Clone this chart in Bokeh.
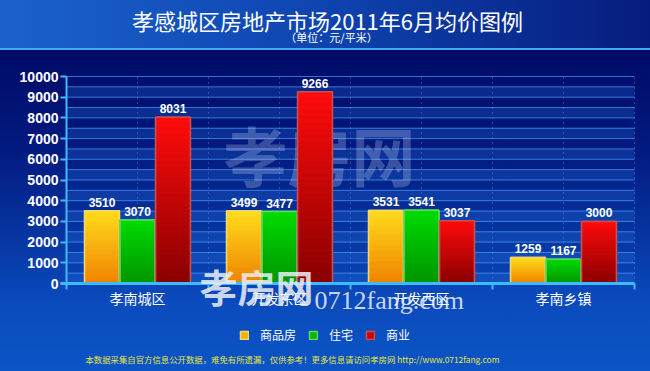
from bokeh.plotting import figure
from bokeh.models import (Range1d, FixedTicker, Label, Legend, LegendItem, ColumnDataSource)
from bokeh.embed import file_html
from bokeh.resources import INLINE
from bokeh.core.properties import value

# ---------------- data ----------------
categories = ["孝南城区", "开发东区", "开发西区", "孝南乡镇"]
series_names = ["商品房", "住宅", "商业"]
shangpinfang = [3510, 3499, 3531, 1259]
zhuzhai = [3070, 3477, 3541, 1167]
shangye = [8031, 9266, 3037, 3000]
y_tick_values = [0, 1000, 2000, 3000, 4000, 5000, 6000, 7000, 8000, 9000, 10000]
y_max = 10000
grid_step = 500

title_text = "孝感城区房地产市场2011年6月均价图例"
subtitle_text = "（单位：元/平米）"
footer_text = "本数据采集自官方信息公开数据，难免有所遗漏，仅供参考！更多信息请访问孝房网 http://www.0712fang.com"
watermark_cn = "孝房网"
watermark_en = "0712fang.com"

# ---------------- geometry / style ----------------
W, H = 650, 371
PL, PR, PT, PB = 66, 634, 76, 283          # plot box in canvas pixels
ncat = len(categories)
ux = (PR - PL) / ncat                      # px per category
uy = (PB - PT) / y_max                     # px per unit value

CJK = "Noto Sans CJK SC"
NUM = "Liberation Sans"
series_vals = [shangpinfang, zhuzhai, shangye]
offsets = [-0.25, 0.0, 0.25]
bar_w = 0.245
top_cols = ["#ffdc1e", "#00dc00", "#ff0c0c"]
bot_cols = ["#f08200", "#009400", "#880000"]
mid_cols = ["#f7b000", "#00b800", "#cc0000"]
edge_cols = ["#f0d870", "#60d860", "#c85050"]
AX = "#3cbcff"

p = figure(width=W, height=H,
           x_range=Range1d(-PL / ux, ncat + (W - PR) / ux),
           y_range=Range1d(-(H - PB) / uy, y_max + PT / uy),
           title=None, output_backend="svg", toolbar_location=None, min_border=0)
p.styles = {
    "background": (
        "linear-gradient(to bottom, rgba(0,0,0,0) 48px, #45a8f5 48px, #45a8f5 50px, rgba(0,0,0,0) 50px), "
        "linear-gradient(to right, #1b62cc 0%, #0e44b0 50%, #061c7c 100%) 0 0 / 100% 49px no-repeat, "
        "linear-gradient(to bottom, #000862 0px, #000a66 50px, #021a80 150px, #06339e 230px, #0a4abc 300px, #0b55c6 371px)"
    )
}
p.border_fill_alpha = 0
p.background_fill_alpha = 0
p.outline_line_color = None
p.xgrid.visible = False
p.ygrid.visible = False

# --- plot-area bands & grid lines (limited to the value axis extent) ---
levels = list(range(0, y_max + 1, grid_step))
band_b = levels[0:-1:2]
p.quad(left=0, right=ncat, bottom=band_b, top=[b + grid_step for b in band_b],
       fill_color="#2a72e0", fill_alpha=0.25, line_color=None)
p.segment(x0=0, x1=ncat, y0=levels, y1=levels, line_color="#4aa0f8", line_alpha=0.7, line_width=1)
vlines = [k / 2 for k in range(1, 2 * ncat + 1)]
p.segment(x0=vlines, x1=vlines, y0=0, y1=y_max, line_color="#5aa0f0", line_alpha=0.7,
          line_dash="1 4", line_width=1)

# centre watermark (behind bars)
p.text(x=[(223 - PL) / ux], y=[(PB - 152) / uy], text=[watermark_cn], text_align="left",
       text_baseline="middle", text_font=value(CJK), text_font_style="bold",
       text_font_size="64px", text_color="#dfe6ff", text_alpha=0.25)

# --- axes, fixed at the value / category origin ---
p.yaxis.fixed_location = 0
p.yaxis.bounds = (0, y_max)
p.yaxis.ticker = FixedTicker(ticks=y_tick_values)
p.yaxis.axis_line_color = AX
p.yaxis.axis_line_width = 2
p.yaxis.major_tick_line_color = AX
p.yaxis.major_tick_line_width = 2
p.yaxis.major_tick_out = 6
p.yaxis.major_tick_in = 0
p.yaxis.minor_tick_line_color = None
p.yaxis.major_label_text_color = "white"
p.yaxis.major_label_text_font = NUM
p.yaxis.major_label_text_font_style = "bold"
p.yaxis.major_label_text_font_size = "14px"
p.yaxis.major_label_standoff = 2

centers = [i + 0.5 for i in range(ncat)]
p.xaxis.fixed_location = 0
p.xaxis.bounds = (-0.04, ncat)
p.xaxis.ticker = FixedTicker(ticks=centers, minor_ticks=list(range(ncat + 1)))
p.xaxis.major_label_overrides = {c: n for c, n in zip(centers, categories)}
p.xaxis.axis_line_color = AX
p.xaxis.axis_line_width = 3
p.xaxis.major_tick_line_color = None
p.xaxis.major_tick_out = 6
p.xaxis.major_tick_in = 0
p.xaxis.minor_tick_line_color = AX
p.xaxis.minor_tick_line_width = 2
p.xaxis.minor_tick_out = 6
p.xaxis.minor_tick_in = 0
p.xaxis.major_label_text_color = "white"
p.xaxis.major_label_text_font = CJK
p.xaxis.major_label_text_font_size = "14px"
p.xaxis.major_label_standoff = -2


def mix(c1, c2, t):
    a = [int(c1[i:i + 2], 16) for i in (1, 3, 5)]
    b = [int(c2[i:i + 2], 16) for i in (1, 3, 5)]
    return "#%02x%02x%02x" % tuple(round(a[j] + (b[j] - a[j]) * t) for j in range(3))


N = 30
legend_items = []
for s, vals in enumerate(series_vals):
    xs = [c + offsets[s] for c in centers]
    src = ColumnDataSource(dict(x=xs, top=vals))
    solid = p.vbar(x="x", top="top", width=bar_w, source=src,
                   fill_color=mid_cols[s], line_color=edge_cols[s], line_width=1.5)
    legend_items.append(LegendItem(label=series_names[s], renderers=[solid]))
    # vertical colour gradient, sliced from each bar's own value
    gx, gb, gt, gc = [], [], [], []
    for x, v in zip(xs, vals):
        for k in range(N):
            gx.append(x)
            gb.append(v * k / N)
            gt.append(v * (k + 1) / N)
            gc.append(mix(bot_cols[s], top_cols[s], (k + 0.5) / N))
    p.vbar(x=gx, bottom=gb, top=gt, width=bar_w, fill_color=gc, line_color=gc, line_width=0.6)
    p.vbar(x="x", top="top", width=bar_w, source=src,
           fill_color=None, line_color=edge_cols[s], line_width=1.5)
    tsrc = ColumnDataSource(dict(x=xs, y=vals, t=[str(v) for v in vals]))
    p.text(x="x", y="y", text="t", source=tsrc, y_offset=-4,
           text_align="center", text_baseline="bottom",
           text_font=value(NUM), text_font_style="bold", text_font_size="12px",
           text_color="white")


def lab(cx, cy, text, **kw):
    """Label placed at canvas pixel (cx, cy) measured from the top-left corner."""
    return Label(x=cx, y=H - cy, x_units="screen", y_units="screen", text=text, **kw)


p.add_layout(lab(327, 19, title_text, text_align="center", text_baseline="middle",
                 text_font=CJK, text_font_size="22px", text_color="white"))
p.add_layout(lab(331, 36, subtitle_text, text_align="center", text_baseline="middle",
                 text_font=CJK, text_font_size="11px", text_color="white"))
p.add_layout(lab(85, 358, footer_text, text_align="left", text_baseline="middle",
                 text_font=CJK, text_font_size="8.4px", text_color="#e6e43c"))
# watermark overlapping the category axis
p.add_layout(lab(199, 285, watermark_cn, text_align="left", text_baseline="middle",
                 text_font=CJK, text_font_style="bold", text_font_size="38px",
                 text_color="#eef0f8", text_alpha=0.85))
p.add_layout(lab(314, 300, watermark_en, text_align="left", text_baseline="alphabetic",
                 text_font="Liberation Serif", text_font_size="26px",
                 text_color="#eef0f8", text_alpha=0.85))

legend = Legend(items=legend_items, orientation="horizontal", location=(239, H - 343),
                padding=0, margin=0, spacing=12, glyph_width=10, glyph_height=10,
                label_height=10, label_standoff=11, label_text_font=CJK,
                label_text_font_size="12px", label_text_color="white",
                label_text_baseline="middle",
                background_fill_alpha=0, border_line_color=None)
p.add_layout(legend, "center")

open("out.html", "w").write(file_html(p, INLINE))
